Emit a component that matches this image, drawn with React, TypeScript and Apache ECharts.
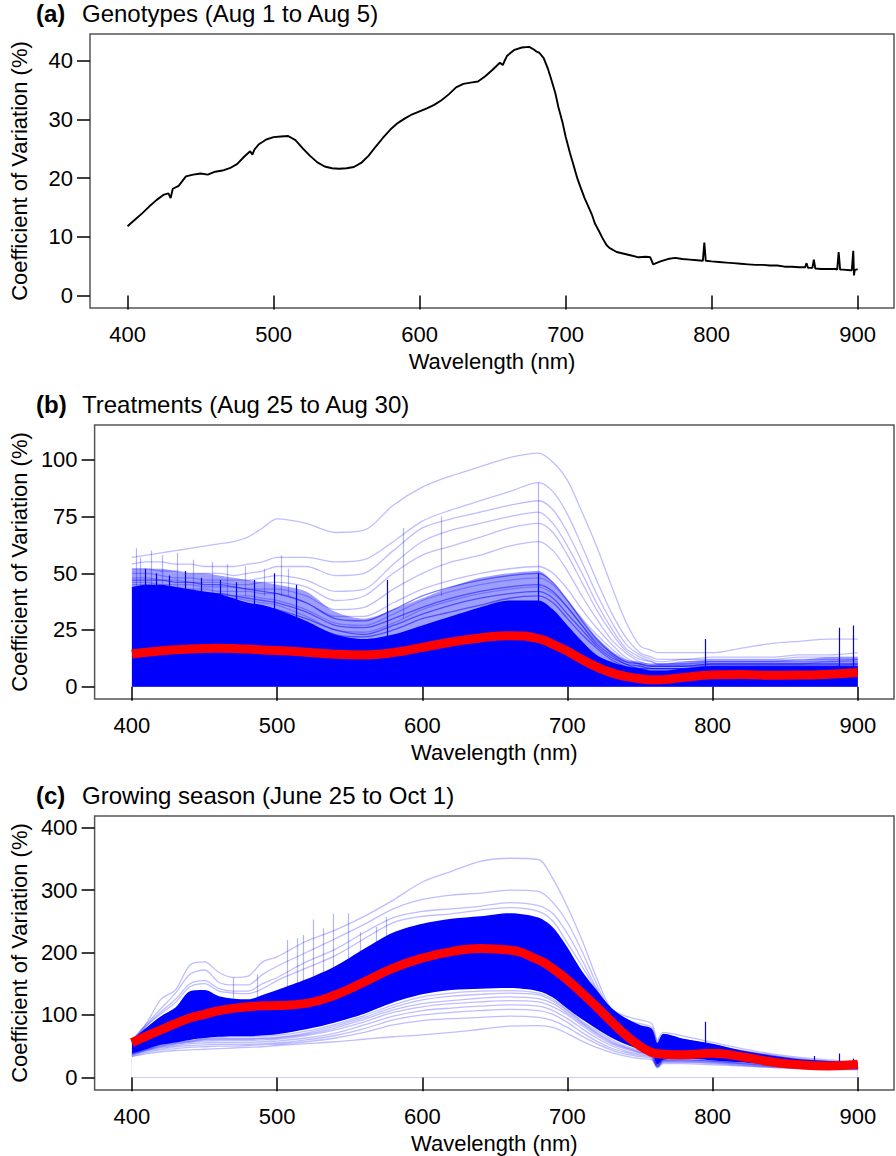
import React, { useEffect, useRef } from "react";
import * as echarts from "echarts";

const FONT = "'Liberation Sans', Arial, sans-serif";

// ---------- Panel (a): genotypes ----------
const spectrumA: [number, number][] = [
  [400, 11.8], [405, 12.9], [410, 14.0], [415, 15.2], [420, 16.3], [425, 17.2], [428, 17.4], [429.5, 16.6], [431, 18.2], [435, 18.7],
  [440, 20.3], [445, 20.6], [450, 20.8], [455, 20.6], [460, 21.1], [465, 21.3], [470, 21.7], [475, 22.4], [480, 23.7], [484, 24.6],
  [485.5, 24.0], [487, 24.9], [490, 25.8], [495, 26.6], [500, 27.0], [505, 27.1], [510, 27.2], [515, 26.5], [520, 25.1], [525, 23.8],
  [530, 22.7], [535, 22.0], [540, 21.7], [545, 21.6], [550, 21.7], [555, 21.9], [560, 22.6], [565, 23.8], [570, 25.4], [575, 26.9],
  [580, 28.3], [585, 29.4], [590, 30.2], [595, 30.9], [600, 31.4], [605, 31.9], [610, 32.5], [615, 33.3], [620, 34.3], [625, 35.5],
  [630, 36.1], [635, 36.3], [640, 36.5], [645, 37.4], [650, 38.5], [655, 39.7], [657, 39.3], [658, 39.9], [660, 40.9], [665, 41.9],
  [670, 42.3], [675, 42.4], [678, 42.0], [680, 41.6], [682, 41.4], [685, 40.5], [688, 38.6], [690, 37.0], [693, 34.5], [695, 32.2],
  [698, 29.4], [700, 27.1], [703, 24.3], [705, 22.6], [708, 20.0], [710, 18.6], [713, 16.6], [715, 15.5], [718, 13.8], [720, 12.3],
  [723, 10.9], [725, 9.9], [728, 8.6], [730, 8.1], [735, 7.4], [740, 7.1], [745, 6.8], [750, 6.5], [755, 6.6], [758, 6.5],
  [760, 5.3], [762, 5.5], [765, 5.8], [770, 6.2], [775, 6.4], [780, 6.2], [785, 6.1], [790, 6.0], [794, 5.9], [795, 9.0],
  [796, 5.9], [800, 5.8], [805, 5.7], [810, 5.6], [815, 5.5], [820, 5.4], [825, 5.3], [830, 5.2], [835, 5.2], [840, 5.1],
  [845, 5.1], [850, 4.9], [855, 4.9], [860, 4.8], [864, 4.8], [865, 5.5], [866, 4.7], [869, 4.7], [870, 6.1], [871, 4.6],
  [875, 4.5], [880, 4.5], [885, 4.5], [886, 4.4], [887, 7.4], [888, 4.4], [890, 4.4], [895, 4.3], [896, 4.3], [897, 7.6],
  [897.5, 3.4], [898, 4.3], [900, 4.5],
];

// ---------- Shared wavelength grid for panels (b) and (c) ----------
const wl = [400, 410, 420, 430, 440, 450, 460, 470, 480, 490, 500, 520, 540, 560, 580, 600, 620, 640, 660, 680, 690, 700, 710, 720, 730, 740, 750, 758, 762, 766, 780, 800, 820, 840, 860, 880, 900];

// ---------- Panel (b): treatments ----------
const meanB = [14.4, 15.2, 15.8, 16.3, 16.6, 16.8, 16.9, 16.8, 16.6, 16.2, 15.9, 15.2, 14.3, 14.0, 15.0, 17.3, 19.7, 21.5, 22.5, 21.2, 18.7, 15.6, 12.0, 8.7, 6.2, 4.5, 3.5, 3.0, 3.0, 3.1, 4.1, 5.2, 5.4, 5.0, 5.1, 5.5, 6.2];
const denseB = [44, 45, 45, 44, 43, 42, 41, 39, 37, 36, 34, 29, 23, 21, 23, 27, 31, 35, 38, 38, 34, 27, 20, 14, 11, 9, 8, 7, 7, 7, 8, 9, 9, 9, 9, 9, 9];
const cloudB = [52, 52, 52, 51, 50, 50, 49, 48, 47, 46, 45, 42, 33, 30, 34, 39, 44, 48, 50, 51, 46, 38, 30, 22, 16, 12, 11, 10, 10, 10, 11, 12, 12, 12, 12, 13, 13];
const midB: number[][] = [
  [47, 47, 47, 46, 46, 45, 45, 44, 43, 42, 41, 37, 30, 29, 34, 40, 44, 47, 49, 50, 46, 38, 29, 21, 15, 11, 10, 9, 9, 9, 9, 10, 10, 10, 10, 10, 10],
  [43, 43, 43, 42, 42, 41, 41, 40, 39, 38, 37, 33, 27, 26, 30, 35, 39, 42, 44, 45, 42, 35, 27, 19, 14, 10, 9, 8, 8, 8, 8, 9, 9, 9, 9, 9, 9],
  [40, 40, 40, 39, 39, 38, 38, 37, 36, 35, 34, 30, 25, 23, 27, 32, 36, 39, 41, 42, 39, 32, 25, 18, 13, 10, 8, 8, 8, 8, 8, 8, 8, 8, 8, 8, 8],
  [36, 36, 36, 36, 35, 35, 34, 34, 33, 32, 31, 28, 23, 22, 25, 30, 33, 36, 39, 40, 37, 30, 23, 17, 12, 9, 8, 7, 7, 7, 7, 8, 8, 8, 8, 8, 8],
];
const plotsB: number[][] = [
  [57, 58, 59, 60, 61, 62, 63, 64, 66, 70, 74, 72, 68, 69, 80, 88, 93, 97, 101, 103, 99, 91, 77, 62, 45, 29, 18, 16, 15, 15, 15, 15, 17, 19, 20, 21, 21],
  [54, 55, 55, 54, 54, 53, 53, 53, 54, 55, 57, 57, 55, 56, 64, 73, 78, 82, 86, 90, 86, 76, 62, 47, 33, 22, 15, 13, 12, 12, 12, 13, 13, 13, 14, 14, 15],
  [52, 52, 51, 51, 50, 50, 50, 49, 50, 51, 53, 53, 49, 50, 60, 70, 74, 77, 80, 82, 78, 68, 55, 41, 29, 19, 14, 12, 11, 11, 12, 12, 12, 12, 13, 13, 13],
  [50, 50, 49, 48, 48, 47, 47, 47, 47, 48, 49, 47, 42, 43, 54, 64, 69, 72, 75, 77, 72, 62, 50, 37, 26, 17, 13, 11, 10, 10, 11, 11, 11, 11, 12, 12, 12],
  [48, 48, 47, 47, 46, 46, 46, 45, 45, 46, 46, 44, 38, 40, 50, 58, 62, 66, 70, 72, 68, 58, 46, 34, 24, 16, 12, 11, 10, 10, 10, 11, 11, 11, 11, 11, 12],
  [46, 46, 45, 45, 45, 44, 44, 44, 43, 43, 43, 40, 34, 35, 43, 50, 55, 58, 62, 64, 60, 51, 40, 30, 21, 15, 11, 10, 10, 10, 10, 10, 10, 10, 10, 11, 11],
  [45, 45, 44, 44, 43, 43, 42, 42, 42, 41, 41, 37, 31, 31, 37, 43, 47, 50, 52, 53, 50, 43, 34, 26, 19, 13, 10, 9, 9, 9, 9, 10, 10, 10, 10, 10, 10],
  [44, 43, 43, 42, 42, 41, 41, 40, 40, 39, 38, 34, 28, 27, 32, 38, 42, 45, 47, 48, 45, 38, 30, 23, 17, 12, 10, 9, 9, 9, 9, 9, 9, 9, 9, 9, 10],
  [42, 42, 41, 41, 40, 40, 39, 39, 38, 37, 36, 31, 25, 24, 28, 34, 38, 41, 43, 44, 41, 35, 27, 20, 15, 11, 9, 8, 8, 8, 8, 9, 9, 9, 9, 9, 9],
];
// [wavelength, from, to]
const spikesBDark: [number, number, number][] = [
  [409, 30, 52], [417, 30, 50], [426, 30, 49], [437, 30, 51], [448, 30, 48], [461, 30, 47], [472, 30, 46], [484, 30, 47],
  [498, 30, 50], [513, 30, 45], [576, 20, 47], [680, 20, 50], [795, 8, 21], [887, 8, 26], [897, 8, 27],
];
const spikesBLight: [number, number, number][] = [
  [403, 40, 61], [406, 40, 57], [413, 40, 60], [421, 40, 58], [431, 40, 59], [442, 40, 56], [455, 40, 55], [466, 40, 54],
  [478, 40, 53], [491, 40, 52], [503, 40, 58], [508, 40, 52], [587, 30, 70], [613, 40, 75], [680, 40, 90],
];

// ---------- Panel (c): growing season ----------
const meanC = [55.6, 66, 76, 86, 95, 101, 107, 110.5, 113, 114.5, 115, 118.5, 132, 153, 175, 191, 201.5, 206.5, 204, 188, 174, 156, 135, 113, 90, 68, 50, 40, 38, 37, 36, 38.5, 33, 25, 20, 18.2, 21];
const denseLowC = [38, 45, 52, 56, 60, 63, 65, 66, 66, 67, 69, 77, 88, 102, 120, 133, 140, 142, 143, 138, 128, 110, 93, 78, 64, 53, 45, 40, 20, 28, 30, 27, 24, 20, 17, 15, 14];
const denseHighC = [60, 80, 98, 112, 138, 140, 130, 126, 125, 132, 140, 157, 178, 206, 232, 246, 254, 258, 263, 256, 240, 208, 170, 140, 112, 95, 84, 78, 55, 70, 62, 54, 43, 35, 29, 26, 24];
const plotsLowC: number[][] = [
  [33, 38, 41, 43, 44, 45, 46, 47, 48, 49, 51, 54, 57, 61, 65, 68, 72, 77, 82, 83, 80, 70, 58, 48, 40, 34, 30, 28, 15, 22, 22, 20, 18, 16, 14, 13, 12],
  [34, 40, 44, 46, 48, 49, 50, 50, 51, 52, 53, 57, 63, 72, 84, 91, 94, 96, 98, 96, 91, 80, 66, 54, 44, 37, 33, 30, 16, 24, 24, 22, 19, 16, 15, 14, 13],
  [35, 42, 46, 49, 51, 52, 53, 53, 53, 54, 55, 60, 67, 78, 92, 100, 104, 107, 109, 107, 101, 88, 72, 58, 47, 40, 35, 32, 17, 25, 25, 23, 20, 17, 15, 14, 13],
  [36, 43, 48, 51, 54, 55, 56, 56, 56, 57, 58, 63, 71, 84, 98, 107, 111, 114, 116, 114, 107, 94, 78, 63, 51, 42, 37, 33, 17, 26, 26, 24, 21, 18, 16, 15, 14],
  [37, 44, 49, 53, 56, 58, 59, 59, 59, 60, 61, 67, 76, 89, 104, 113, 118, 121, 123, 121, 113, 100, 83, 67, 54, 45, 39, 35, 18, 27, 27, 25, 22, 18, 16, 15, 14],
  [37, 44, 50, 54, 57, 60, 61, 61, 61, 62, 63, 69, 79, 93, 108, 118, 123, 127, 129, 126, 118, 103, 86, 70, 56, 47, 40, 36, 18, 27, 28, 26, 22, 19, 16, 15, 14],
  [38, 45, 51, 55, 58, 61, 62, 62, 62, 63, 64, 71, 82, 96, 112, 124, 130, 133, 135, 132, 122, 106, 88, 72, 58, 48, 41, 37, 19, 28, 28, 26, 23, 19, 17, 15, 14],
  [38, 45, 52, 56, 59, 62, 64, 65, 65, 66, 67, 74, 85, 99, 116, 129, 135, 138, 139, 135, 125, 108, 90, 75, 61, 50, 43, 38, 19, 28, 29, 26, 23, 20, 17, 15, 14],
];
const plotsHighC: number[][] = [
  [60, 87, 125, 140, 180, 185, 168, 160, 162, 185, 193, 218, 236, 258, 284, 313, 330, 346, 351, 349, 318, 273, 220, 160, 110, 98, 92, 86, 60, 72, 66, 56, 46, 38, 32, 28, 25],
  [58, 85, 110, 135, 165, 172, 152, 148, 148, 165, 178, 200, 222, 245, 270, 285, 292, 295, 300, 298, 280, 248, 202, 150, 106, 92, 86, 80, 58, 66, 60, 52, 43, 36, 30, 26, 23],
  [57, 83, 105, 125, 150, 155, 142, 138, 138, 150, 160, 185, 205, 232, 256, 266, 270, 274, 280, 275, 262, 230, 188, 143, 104, 90, 82, 77, 56, 64, 58, 50, 42, 35, 29, 26, 23],
  [56, 82, 102, 120, 145, 150, 138, 135, 134, 142, 155, 175, 195, 222, 248, 258, 262, 268, 272, 266, 250, 215, 178, 140, 105, 88, 80, 75, 55, 68, 60, 52, 42, 35, 28, 25, 23],
];
const spikesCLight: [number, number, number][] = [
  [470, 125, 160], [486, 125, 165], [507, 140, 220], [514, 150, 223], [518, 150, 228], [525, 155, 253], [532, 165, 239],
  [539, 170, 262], [549, 185, 263], [557, 195, 233], [568, 215, 241], [575, 225, 257],
];
const spikesCDark: [number, number, number][] = [
  [795, 45, 89], [870, 25, 34], [887, 22, 38], [897, 20, 30],
];

// ---------- Axes ----------
const xTicks = [400, 500, 600, 700, 800, 900];
const yTicksA = [0, 10, 20, 30, 40];
const yTicksB = [0, 25, 50, 75, 100];
const yTicksC = [0, 100, 200, 300, 400];
const titles = [
  { tag: "(a)", text: "Genotypes (Aug 1 to Aug 5)" },
  { tag: "(b)", text: "Treatments (Aug 25 to Aug 30)" },
  { tag: "(c)", text: "Growing season (June 25 to Oct 1)" },
];

const BLUE = "#0000ff";
const LIGHT = "rgba(0,0,255,0.26)";
const MID = "rgba(0,0,255,0.5)";

const pair = (vals: number[]) => vals.map((v, i) => [wl[i], v]);

function lineSeries(idx: number, vals: number[], color: string, width: number, extra: any = {}) {
  return {
    type: "line",
    xAxisIndex: idx,
    yAxisIndex: idx,
    data: pair(vals),
    symbol: "none",
    smooth: 0.3,
    silent: true,
    lineStyle: { color, width },
    ...extra,
  };
}

function areaSeries(idx: number, vals: number[], color: string) {
  return {
    type: "line",
    xAxisIndex: idx,
    yAxisIndex: idx,
    data: pair(vals),
    symbol: "none",
    smooth: 0.3,
    silent: true,
    lineStyle: { opacity: 0, width: 0 },
    areaStyle: { color, opacity: 1 },
  };
}

function spikeSeries(idx: number, spikes: [number, number, number][], color: string) {
  return {
    type: "lines",
    coordinateSystem: "cartesian2d",
    xAxisIndex: idx,
    yAxisIndex: idx,
    silent: true,
    lineStyle: { color, width: 1.2, opacity: 1 },
    data: spikes.map(([x, a, b]) => ({ coords: [[x, a], [x, b]] })),
  };
}

const grids = [34, 425, 816];
const yRanges = [
  [-2.15, 44.6],
  [-5.44, 115.4],
  [-20.3, 418.7],
];
const yTicks = [yTicksA, yTicksB, yTicksC];

function buildOption() {
  const grid = grids.map((top) => ({
    left: 81,
    right: 2,
    top,
    height: 274,
    show: true,
    borderColor: "#555",
    borderWidth: 1.5,
    backgroundColor: "transparent",
  }));
  const xAxis = grids.map((_, i) => ({
    type: "value",
    gridIndex: i,
    min: 374.3,
    max: 924.9,
    axisLine: { show: false },
    axisTick: { show: true, length: 14, lineStyle: { color: "#000", width: 1.5 }, customValues: xTicks },
    axisLabel: { customValues: xTicks, fontSize: 22, color: "#000", fontFamily: FONT, margin: 15 },
    splitLine: { show: false },
    name: "Wavelength (nm)",
    nameLocation: "middle",
    nameGap: 42,
    nameTextStyle: { fontSize: 22, color: "#000", fontFamily: FONT },
  }));
  const yAxis = grids.map((_, i) => ({
    type: "value",
    gridIndex: i,
    min: yRanges[i][0],
    max: yRanges[i][1],
    axisLine: { show: false },
    axisTick: { show: true, length: 13, lineStyle: { color: "#000", width: 1.5 }, customValues: yTicks[i] },
    axisLabel: { customValues: yTicks[i], fontSize: 22, color: "#000", fontFamily: FONT, margin: 17 },
    splitLine: { show: false },
    name: "Coefficient of Variation (%)",
    nameLocation: "middle",
    nameRotate: 90,
    nameGap: 60,
    nameTextStyle: { fontSize: 22, color: "#000", fontFamily: FONT },
  }));

  const series: any[] = [];
  // (a)
  series.push({
    type: "line",
    xAxisIndex: 0,
    yAxisIndex: 0,
    data: spectrumA,
    symbol: "none",
    silent: true,
    lineStyle: { color: "#000", width: 1.9 },
  });
  // (b)
  series.push(areaSeries(1, cloudB, "rgba(0,0,255,0.38)"));
  series.push(areaSeries(1, denseB, BLUE));
  midB.forEach((p) => series.push(lineSeries(1, p, MID, 1.3)));
  plotsB.forEach((p) => series.push(lineSeries(1, p, LIGHT, 1.3)));
  series.push(spikeSeries(1, spikesBLight, "rgba(0,0,255,0.3)"));
  series.push(spikeSeries(1, spikesBDark, BLUE));
  series.push(lineSeries(1, meanB, "#ff0000", 9, { smooth: true }));
  // (c)
  series.push(areaSeries(2, denseHighC, BLUE));
  series.push(areaSeries(2, denseLowC, "#ffffff"));
  plotsLowC.forEach((p) => series.push(lineSeries(2, p, LIGHT, 1.3)));
  plotsHighC.forEach((p) => series.push(lineSeries(2, p, LIGHT, 1.3)));
  series.push(spikeSeries(2, spikesCLight, "rgba(0,0,255,0.3)"));
  series.push(spikeSeries(2, spikesCDark, BLUE));
  series.push(lineSeries(2, meanC, "#ff0000", 9, { smooth: true }));

  const graphic: any[] = [];
  titles.forEach((t, i) => {
    const y = grids[i] - 21;
    graphic.push({
      type: "text",
      x: 36,
      y,
      style: { text: t.tag, font: `bold 24px ${FONT}`, fill: "#000", textVerticalAlign: "middle", verticalAlign: "middle" },
    });
    graphic.push({
      type: "text",
      x: 82,
      y,
      style: { text: t.text, font: `24px ${FONT}`, fill: "#000", textVerticalAlign: "middle", verticalAlign: "middle" },
    });
  });

  return {
    animation: false,
    backgroundColor: "#fff",
    grid,
    xAxis,
    yAxis,
    series,
    graphic,
  };
}

export default function App() {
  const ref = useRef<HTMLDivElement>(null);
  useEffect(() => {
    document.body.style.margin = "0";
    const chart = echarts.init(ref.current!, null, { renderer: "svg" });
    chart.setOption(buildOption() as any);
    return () => chart.dispose();
  }, []);
  return (
    <div
      ref={ref}
      style={{ position: "fixed", left: 0, top: 0, width: 896, height: 1156, background: "#fff" }}
    />
  );
}
